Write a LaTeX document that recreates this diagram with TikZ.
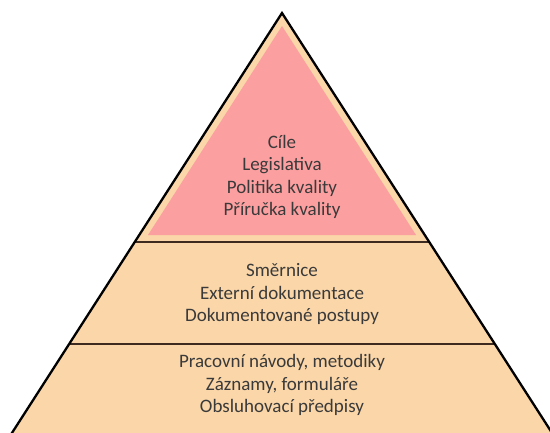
\documentclass[tikz,border=0pt]{standalone}
\usepackage{fontspec}
\setmainfont{Carlito}
\usetikzlibrary{calc}
\definecolor{tan}{HTML}{FAD6A8}
\definecolor{rose}{HTML}{FC9FA0}
\definecolor{divider}{HTML}{3E2A1E}
\definecolor{label}{HTML}{3A3A3A}

\begin{document}
\begin{tikzpicture}[x=1pt,y=-1pt,
    level/.style={align=center, font=\fontsize{19}{22.5}\selectfont, text=label, inner sep=0pt},
    divline/.style={draw=divider, line width=2pt}]
\useasboundingbox (0,0) rectangle (550,432);
% outer pyramid corners
\coordinate (apex) at (282,13);
\coordinate (bl) at (5.5,443);
\coordinate (br) at (558.5,443);
% inner pink tip
\coordinate (tip) at (282,26);
\coordinate (tl) at (148,235);
\coordinate (tr) at (416,235);
% divider end points on the sides
\coordinate (d1l) at ($(apex)!0.5326!(bl)$);
\coordinate (d1r) at ($(apex)!0.5326!(br)$);
\coordinate (d2l) at ($(apex)!0.7698!(bl)$);
\coordinate (d2r) at ($(apex)!0.7698!(br)$);
\begin{scope}
  \clip (0,0) rectangle (550,432);
  \fill[tan] (apex) -- (br) -- (bl) -- cycle;
  \fill[rose] (tip) -- (tr) -- (tl) -- cycle;
  \draw[divline] (d1l) -- (d1r);
  \draw[divline] (d2l) -- (d2r);
  \draw[black, line width=2.3pt, line join=miter] (bl) -- (apex) -- (br);
\end{scope}
\node[level] (top) at (282,177) {Cíle\\Legislativa\\Politika kvality\\Příručka kvality};
\node[level] (mid) at (282,294) {Směrnice\\Externí dokumentace\\Dokumentované postupy};
\node[level] (low) at (282,385) {Pracovní návody, metodiky\\Záznamy, formuláře\\Obsluhovací předpisy};
\end{tikzpicture}
\end{document}
